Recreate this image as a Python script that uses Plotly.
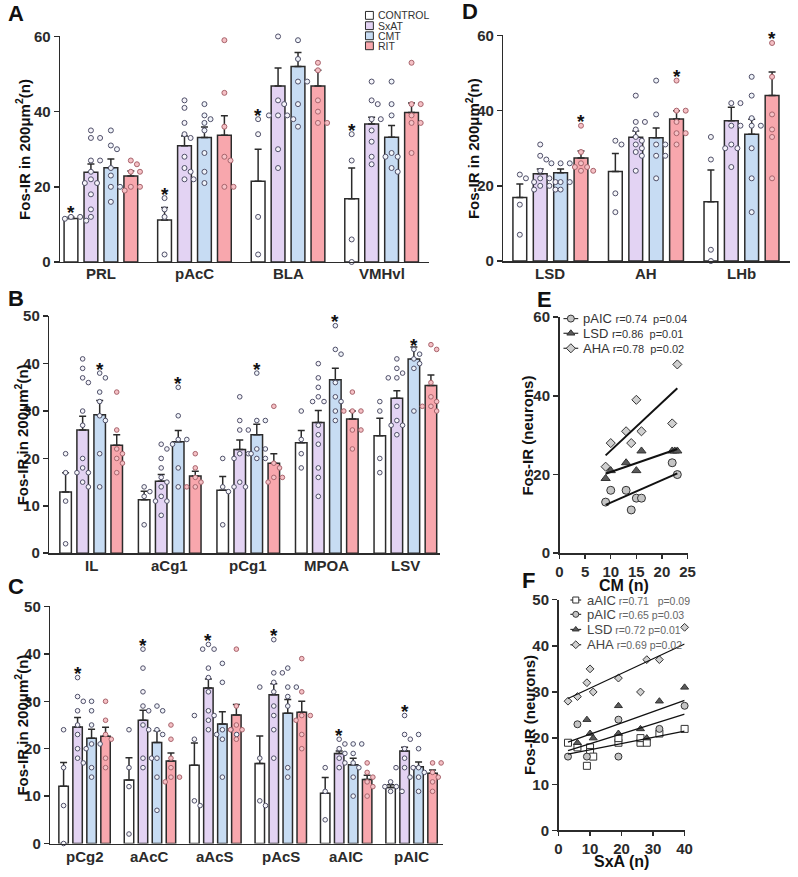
import numpy as np
import plotly.graph_objects as go

W, H = 798, 877
FONT = "Liberation Sans, Arial, Helvetica, sans-serif"
INK = "#2b2b2b"

group_names = ["CONTROL", "SxAT", "CMT", "RIT"]
bar_colors = ["#ffffff", "#e3d3f3", "#c7dcf3", "#f8a7ad"]
dot_fill = ["#f6f6f8", "#f6f4fa", "#f0f4fa", "#f5c0c5"]
dot_edge = ["#4f4f68", "#4f4f68", "#4f4f68", "#a8646c"]

# ---------------- Panel A ----------------
cats_A = ["PRL", "pAcC", "BLA", "VMHvl"]
mean_A_control = [11.6, 11.2, 21.5, 16.8]
mean_A_sxat = [23.9, 30.9, 46.8, 36.7]
mean_A_cmt = [25.1, 33.1, 52.0, 33.2]
mean_A_rit = [22.9, 33.7, 46.8, 39.8]
sem_A_control = [0.4, 3.3, 8.5, 8.2]
sem_A_sxat = [2.2, 2.6, 4.8, 1.8]
sem_A_cmt = [2.3, 2.8, 3.7, 3.1]
sem_A_rit = [1.3, 5.2, 4.2, 2.5]
pts_A_control = [[11, 11, 11.5, 12, 12], [17, 14, 12, 2], [38, 34, 12, 2], [34, 27, 6, 0]]
pts_A_sxat = [[35, 33, 33, 27, 27, 24, 22, 21, 21, 18, 14, 12],
              [43, 41, 37, 34, 33, 28, 25, 24, 22, 22],
              [60, 43, 42, 39, 39, 38, 39, 30, 25],
              [48, 43, 42, 38, 38, 35, 32, 28, 26]]
pts_A_cmt = [[35, 31, 30, 25, 23, 20, 20, 16],
             [42, 39, 38, 37, 35, 29, 24, 21],
             [59, 54, 48, 48, 42, 36],
             [48, 42, 39, 29, 28, 28, 25, 24]]
pts_A_rit = [[27, 26, 24, 24, 20, 19, 20],
             [59, 45, 36, 28, 27, 20, 20],
             [53, 51, 43, 40, 37, 37],
             [53, 42, 42, 39, 37, 37, 29]]

# ---------------- Panel D ----------------
cats_D = ["LSD", "AH", "LHb"]
mean_D_control = [16.9, 23.8, 15.8]
mean_D_sxat = [23.2, 32.9, 37.3]
mean_D_cmt = [23.5, 32.8, 33.7]
mean_D_rit = [27.4, 37.8, 44.0]
sem_D_control = [3.6, 4.8, 8.4]
sem_D_sxat = [1.3, 1.7, 3.6]
sem_D_cmt = [1.0, 2.6, 4.0]
sem_D_rit = [1.9, 2.2, 6.3]
pts_D_control = [[23, 22, 15, 7], [32, 31, 18, 13], [33, 27, 3, 0]]
pts_D_sxat = [[31, 28, 27, 24, 22, 22, 21, 21, 20, 20, 19, 19],
              [44, 37, 37, 35, 33, 32, 31, 30, 29, 28, 24],
              [42, 42, 36, 36, 31, 30, 30, 25]]
pts_D_cmt = [[26, 26, 26, 21, 21, 19],
             [48, 39, 31, 31, 28, 28, 22],
             [49, 44, 38, 36, 36, 30, 22, 13]]
pts_D_rit = [[36, 29, 26, 25, 25, 24, 24],
             [48, 40, 40, 37, 34, 34, 31],
             [58, 49, 39, 35, 33, 22]]

# ---------------- Panel B ----------------
cats_B = ["IL", "aCg1", "pCg1", "MPOA", "LSV"]
mean_B_control = [12.9, 11.3, 13.3, 23.3, 24.8]
mean_B_sxat = [26.0, 15.2, 21.9, 27.6, 32.7]
mean_B_cmt = [29.2, 23.5, 25.0, 36.6, 41.0]
mean_B_rit = [22.8, 16.3, 19.0, 28.3, 35.4]
sem_B_control = [4.1, 1.8, 2.9, 2.6, 3.7]
sem_B_sxat = [2.9, 1.4, 2.0, 2.5, 1.6]
sem_B_cmt = [3.0, 2.4, 2.2, 2.4, 2.5]
sem_B_rit = [2.2, 1.0, 2.0, 1.7, 2.2]
pts_B_control = [[21, 17, 11, 2], [14, 13, 12, 6], [20, 14, 13, 6], [30, 24, 21, 18], [32, 30, 20, 17]]
pts_B_sxat = [[41, 39, 37, 36, 30, 27, 20, 18, 17, 17, 15, 14],
              [23, 22, 20, 18, 16, 15, 14, 12, 11, 11, 8],
              [33, 28, 26, 26, 21, 21, 20, 15, 14, 14],
              [40, 37, 35, 33, 32, 32, 27, 25, 23, 18, 16, 12],
              [41, 39, 38, 37, 37, 31, 28, 27, 27, 25]]
pts_B_cmt = [[38, 37, 34, 32, 29, 28, 21, 14],
             [35, 29, 24, 24, 23, 18, 14],
             [38, 28, 28, 22, 22, 21, 20, 20],
             [48, 43, 42, 36, 33, 32, 30, 28],
             [43, 42, 41, 40, 39, 30]]
pts_B_rit = [[34, 26, 22, 21, 20, 19, 17],
             [21, 18, 16, 15, 14, 14],
             [31, 19, 18, 16, 16, 15],
             [34, 30, 30, 30, 26, 26, 22],
             [44, 43, 36, 33, 32, 31, 31, 30]]

# ---------------- Panel C ----------------
cats_C = ["pCg2", "aAcC", "aAcS", "pAcS", "aAIC", "pAIC"]
mean_C_control = [12.1, 13.4, 16.5, 16.9, 10.6, 11.8]
mean_C_sxat = [24.6, 26.0, 32.8, 31.4, 19.0, 19.5]
mean_C_cmt = [22.2, 21.3, 25.2, 27.5, 16.6, 16.2]
mean_C_rit = [22.6, 17.4, 27.1, 27.7, 13.5, 14.8]
sem_C_control = [5.0, 4.7, 4.7, 5.8, 3.3, 0.6]
sem_C_sxat = [2.0, 2.1, 1.9, 2.3, 0.5, 0.8]
sem_C_cmt = [1.9, 2.5, 2.6, 2.9, 1.4, 1.0]
sem_C_rit = [1.9, 1.7, 2.2, 2.3, 0.9, 0.7]
pts_C_control = [[24, 16, 8, 0], [24, 16, 12, 2], [27, 22, 9, 8], [33, 18, 9, 8], [16, 11, 5], [13, 12, 12, 11, 11]]
pts_C_sxat = [[35, 31, 30, 28, 25, 23, 20, 20, 18, 17],
              [41, 37, 32, 29, 28, 25, 24, 18, 18, 16],
              [42, 41, 41, 37, 35, 32, 28, 27, 26, 24],
              [43, 36, 36, 34, 32, 29, 27, 24, 18],
              [22, 21, 20, 19, 18, 17, 16],
              [27, 23, 22, 20, 18, 16, 16, 16]]
pts_C_cmt = [[30, 28, 25, 21, 21, 16, 14],
             [29, 28, 24, 23, 18, 14, 7],
             [38, 34, 24, 24, 23, 23, 22, 14],
             [37, 33, 33, 31, 29, 16, 14],
             [21, 21, 19, 17, 16, 14, 10],
             [23, 20, 16, 15, 14, 14, 11]]
pts_C_rit = [[30, 26, 23, 22, 18, 16],
             [25, 22, 18, 16, 14, 14, 13],
             [41, 29, 25, 24, 24, 22],
             [39, 32, 27, 27, 26, 23, 20],
             [17, 15, 14, 13, 12, 10],
             [17, 17, 15, 14, 13, 11]]

# ---------------- Panel E (vs CM) ----------------
E_pAIC_x = [9, 10, 13, 14, 15, 16, 22, 23]
E_pAIC_y = [13, 16, 16, 11, 14, 14, 23, 20]
E_LSD_x = [9, 10, 13, 15, 16, 22, 22.5, 23]
E_LSD_y = [19, 21, 23, 21, 26, 26, 26, 26]
E_AHA_x = [9, 10, 13, 14, 15, 16, 22, 23]
E_AHA_y = [22, 28, 31, 28, 39, 31, 33, 48]
E_labels = ["pAIC", "LSD", "AHA"]
E_stats = ["r=0.74&nbsp;&nbsp;p=0.04", "r=0.86&nbsp;&nbsp;p=0.01", "r=0.78&nbsp;&nbsp;p=0.02"]

# ---------------- Panel F (vs SxA) ----------------
F_aAIC_x = [3, 6, 9, 10, 10, 11, 19, 19, 26, 26, 28, 32, 40]
F_aAIC_y = [19, 18, 14, 18, 17, 16, 19, 20, 19, 20, 19, 21, 22]
F_pAIC_x = [3, 6, 9, 19, 19, 32, 40]
F_pAIC_y = [16, 23, 16, 24, 16, 22, 27]
F_LSD_x = [6, 9, 10, 11, 19, 19, 26, 28, 32, 40]
F_LSD_y = [19, 24, 21, 20, 27, 21, 22, 20, 28, 31]
F_AHA_x = [3, 6, 9, 10, 11, 19, 26, 28, 32, 40]
F_AHA_y = [28, 29, 32, 35, 30, 33, 30, 37, 37, 44]
F_labels = ["aAIC", "pAIC", "LSD", "AHA"]
F_stats = ["r=0.71&nbsp;&nbsp;&nbsp;p=0.09", "r=0.65&nbsp;p=0.03", "r=0.72&nbsp;p=0.01", "r=0.69&nbsp;p=0.02"]

# ---------------------------------------------------------------
fig = go.Figure()
layout = dict(width=W, height=H, autosize=False, margin=dict(l=0, r=0, t=0, b=0, pad=0),
              paper_bgcolor="white", plot_bgcolor="rgba(0,0,0,0)", showlegend=False,
              barmode="overlay", font=dict(family=FONT, color=INK))
annotations = []
shapes = []


def px2paper(x, y):
    return x / W, 1 - y / H


def swarm(vals, ppu, d, center):
    placed = []
    xs = [0.0] * len(vals)
    order = sorted(range(len(vals)), key=lambda i: -vals[i])
    cands = [0.0]
    for m in range(1, 12):
        cands += [m * d * 0.5, -m * d * 0.5]
    for i in order:
        y = vals[i] * ppu
        chosen = cands[-1]
        for c in cands:
            if all((c - p) ** 2 + (y - q) ** 2 >= (d * 1.02) ** 2 for p, q in placed):
                chosen = c
                break
        placed.append((chosen, y))
        xs[i] = center + chosen
    return xs


def axis_common():
    return dict(showline=True, linewidth=1.5, linecolor=INK, showgrid=False, zeroline=False,
                tickfont=dict(family=FONT, size=15, color=INK, weight="bold"))


def bar_panel(k, cats, means, sems, pts, star_grp, g):
    xa, ya = ("x" if k == 1 else f"x{k}"), ("y" if k == 1 else f"y{k}")
    n = len(cats)
    ppu = (g["ybot"] - g["ytop"]) / g["ymax"]
    centers = [[g["first"] + i * g["gpitch"] + j * g["pitch"] + g["bw"] / 2 for i in range(n)] for j in range(4)]
    for j in range(4):
        fig.add_trace(go.Bar(x=centers[j], y=means[j], width=g["bw"], xaxis=xa, yaxis=ya,
                             marker=dict(color=bar_colors[j], line=dict(color=INK, width=1.5)),
                             error_y=dict(type="data", array=sems[j], arrayminus=[0] * n, symmetric=False,
                                          color=INK, thickness=1.5, width=3.5)))
    for j in range(4):
        xs, ys = [], []
        for i in range(n):
            xs += swarm(pts[j][i], ppu, g["dot"] + 1.2, centers[j][i])
            ys += pts[j][i]
        fig.add_trace(go.Scatter(x=xs, y=ys, mode="markers", xaxis=xa, yaxis=ya, cliponaxis=False,
                                 marker=dict(size=g["dot"], color=dot_fill[j],
                                             line=dict(color=dot_edge[j], width=1))))
    for i in range(n):
        annotations.append(dict(x=centers[star_grp][i], y=max(pts[star_grp][i]), xref=xa, yref=ya,
                                text="*", showarrow=False, yanchor="middle", yshift=4,
                                font=dict(family=FONT, size=19, color="#111", weight="bold")))
        # category label
        annotations.append(dict(x=(centers[0][i] + centers[3][i]) / 2, y=1 - g["laby"] / H, xref=xa,
                                yref="paper", text=cats[i], showarrow=False, yanchor="middle",
                                xanchor="center",
                                font=dict(family=FONT, size=15, color=INK, weight="bold")))
    xd = [g["x0"] / W, min(g["x1"] / W, 1.0)]
    yd = [1 - g["ybot"] / H, 1 - g["ytop"] / H]
    xax = axis_common()
    xax.update(domain=xd, range=[g["x0"], g["x1"]], showticklabels=False, ticks="", anchor=ya)
    yax = axis_common()
    yax.update(domain=yd, range=[0, g["ymax"]], dtick=g["dtick"], ticks="outside", ticklen=5,
               tickwidth=1.5, tickcolor=INK, anchor=xa)
    layout["xaxis" if k == 1 else f"xaxis{k}"] = xax
    layout["yaxis" if k == 1 else f"yaxis{k}"] = yax


geo_A = dict(x0=57, x1=431, ytop=28, ybot=258, ymax=60, dtick=20, first=61, bw=14, pitch=20.25, gpitch=95,
             dot=5, laby=270)
geo_B = dict(x0=46, x1=443, ytop=313.3, ybot=555, ymax=50, dtick=10, first=56.7, bw=11.7, pitch=17.3,
             gpitch=79.75, dot=4.6, laby=568)
geo_C = dict(x0=47, x1=446, ytop=609.3, ybot=851, ymax=50, dtick=10, first=55.7, bw=9.6, pitch=14.2,
             gpitch=66.4, dot=4.6, laby=864)
geo_D = dict(x0=507, x1=798, ytop=27, ybot=257, ymax=60, dtick=20, first=516.7, bw=14, pitch=20.7, gpitch=97,
             dot=5, laby=270)

bar_panel(1, cats_A, [mean_A_control, mean_A_sxat, mean_A_cmt, mean_A_rit],
          [sem_A_control, sem_A_sxat, sem_A_cmt, sem_A_rit],
          [pts_A_control, pts_A_sxat, pts_A_cmt, pts_A_rit], 0, geo_A)
bar_panel(2, cats_B, [mean_B_control, mean_B_sxat, mean_B_cmt, mean_B_rit],
          [sem_B_control, sem_B_sxat, sem_B_cmt, sem_B_rit],
          [pts_B_control, pts_B_sxat, pts_B_cmt, pts_B_rit], 2, geo_B)
bar_panel(3, cats_C, [mean_C_control, mean_C_sxat, mean_C_cmt, mean_C_rit],
          [sem_C_control, sem_C_sxat, sem_C_cmt, sem_C_rit],
          [pts_C_control, pts_C_sxat, pts_C_cmt, pts_C_rit], 1, geo_C)
bar_panel(4, cats_D, [mean_D_control, mean_D_sxat, mean_D_cmt, mean_D_rit],
          [sem_D_control, sem_D_sxat, sem_D_cmt, sem_D_rit],
          [pts_D_control, pts_D_sxat, pts_D_cmt, pts_D_rit], 3, geo_D)

# ---------------- scatter panels ----------------
sty = {
    "pAIC": dict(symbol="circle", color="#c4c4c4"),
    "LSD": dict(symbol="triangle-up", color="#5a5a5a"),
    "AHA": dict(symbol="diamond", color="#d0d0d0"),
    "aAIC": dict(symbol="square", color="#ffffff"),
}


def scatter_panel(k, series, xr, yr, xdt, ydt, box, msize, lw):
    xa, ya = f"x{k}", f"y{k}"
    allx = [v for s in series for v in s[1]]
    lo, hi = min(allx), max(allx)
    for name, xs, ys in series:
        st = sty[name]
        fig.add_trace(go.Scatter(x=xs, y=ys, mode="markers", xaxis=xa, yaxis=ya, cliponaxis=False,
                                 marker=dict(symbol=st["symbol"], size=msize[name], color=st["color"],
                                             line=dict(color="#333", width=1))))
    for name, xs, ys in series:
        a, b = np.polyfit(xs, ys, 1)
        fig.add_trace(go.Scatter(x=[lo, hi], y=[a * lo + b, a * hi + b], mode="lines", xaxis=xa, yaxis=ya,
                                 line=dict(color="#111", width=lw)))
    x0, x1, ytop, ybot = box
    xax = axis_common()
    xax.update(domain=[x0 / W, x1 / W], range=xr, dtick=xdt, ticks="outside", ticklen=4, tickwidth=1.5,
               tickcolor=INK, anchor=ya)
    yax = axis_common()
    yax.update(domain=[1 - ybot / H, 1 - ytop / H], range=yr, dtick=ydt, ticks="outside", ticklen=5,
               tickwidth=1.5, tickcolor=INK, anchor=xa)
    layout[f"xaxis{k}"] = xax
    layout[f"yaxis{k}"] = yax


scatter_panel(5, [("pAIC", E_pAIC_x, E_pAIC_y), ("LSD", E_LSD_x, E_LSD_y), ("AHA", E_AHA_x, E_AHA_y)],
              [0, 25], [0, 60], 5, 20, (564, 694, 314.3, 555),
              {"pAIC": 8, "LSD": 8, "AHA": 7}, 2)
scatter_panel(6, [("aAIC", F_aAIC_x, F_aAIC_y), ("pAIC", F_pAIC_x, F_pAIC_y),
                  ("LSD", F_LSD_x, F_LSD_y), ("AHA", F_AHA_x, F_AHA_y)],
              [0, 40], [0, 50], 10, 10, (563, 691, 602.3, 837.7),
              {"aAIC": 7, "pAIC": 7, "LSD": 7, "AHA": 6}, 1.3)

# ---------------- overlay axis in pixel units (legends) ----------------
layout["xaxis7"] = dict(domain=[0, 1], range=[0, W], visible=False, fixedrange=True, anchor="y7")
layout["yaxis7"] = dict(domain=[0, 1], range=[H, 0], visible=False, fixedrange=True, anchor="x7")


def legend_glyph(name, x0, x1, y, msize):
    st = sty[name]
    fig.add_trace(go.Scatter(x=[x0, x1], y=[y, y], mode="lines", xaxis="x7", yaxis="y7",
                             line=dict(color="#333", width=1.2), hoverinfo="skip"))
    fig.add_trace(go.Scatter(x=[(x0 + x1) / 2], y=[y], mode="markers", xaxis="x7", yaxis="y7",
                             marker=dict(symbol=st["symbol"], size=msize, color=st["color"],
                                         line=dict(color="#333", width=1)), hoverinfo="skip"))


E_rows = [315.7, 330.7, 346.0]
for i, nm in enumerate(E_labels):
    legend_glyph(nm, 568, 583, E_rows[i], 7)
    annotations.append(dict(x=586, y=E_rows[i], xref="x7", yref="y7", xanchor="left", yanchor="middle",
                            showarrow=False,
                            text=f"{nm} <span style='font-size:11px'>{E_stats[i]}</span>",
                            font=dict(family=FONT, size=13, color="#333")))
F_rows = [602.7, 617.3, 632.7, 648.3]
for i, nm in enumerate(F_labels):
    legend_glyph(nm, 575, 586, F_rows[i], 6)
    annotations.append(dict(x=590, y=F_rows[i], xref="x7", yref="y7", xanchor="left", yanchor="middle",
                            showarrow=False,
                            text=f"{nm}<span style='font-size:10.5px;color:#666'>&nbsp;{F_stats[i]}</span>",
                            font=dict(family=FONT, size=13, color="#444")))

# bar legend (top)
leg_rows = [6.5, 17, 27.3, 37.5]
for i, nm in enumerate(group_names):
    shapes.append(dict(type="rect", xref="x7", yref="y7", x0=367, x1=375, y0=leg_rows[i] - 4,
                       y1=leg_rows[i] + 4, fillcolor=bar_colors[i], line=dict(color=INK, width=1)))
    annotations.append(dict(x=378, y=leg_rows[i], xref="x7", yref="y7", xanchor="left", yanchor="middle",
                            showarrow=False, text=nm, font=dict(family=FONT, size=10.5, color="#333")))

# panel letters
for lab, (lx, ly) in {"A": (2, 5), "B": (2, 295), "C": (2, 589), "D": (463, 3),
                      "E": (539, 296), "F": (524, 583)}.items():
    x, y = px2paper(lx, ly)
    annotations.append(dict(x=x, y=y, xref="paper", yref="paper", xanchor="left", yanchor="middle",
                            showarrow=False, text=lab, font=dict(family=FONT, size=22, color="#111", weight="bold")))

ytitle = "Fos-IR in 200\u03bcm<sup>2</sup>(n)"
for (tx, ty, txt) in [(19, 143, ytitle), (475, 142, ytitle), (18, 434, ytitle), (18, 730, ytitle),
                      (532, 435, "Fos-IR (neurons)"), (533, 720, "Fos-IR (neurons)")]:
    x, y = px2paper(tx, ty)
    annotations.append(dict(x=x, y=y, xref="paper", yref="paper", xanchor="center", yanchor="middle",
                            showarrow=False, textangle=-90, text=txt,
                            font=dict(family=FONT, size=15, color="#111", weight="bold")))
for (tx, ty, txt) in [(629, 588, "CM (n)"), (627, 869, "SxA (n)")]:
    x, y = px2paper(tx, ty)
    annotations.append(dict(x=x, y=y, xref="paper", yref="paper", xanchor="center", yanchor="middle",
                            showarrow=False, text=txt,
                            font=dict(family=FONT, size=16, color="#111", weight="bold")))

layout["annotations"] = annotations
layout["shapes"] = shapes
fig.update_layout(**layout)
fig.write_html("out.html", config={"displayModeBar": False, "staticPlot": True},
               post_script="document.body.style.margin='0';document.body.style.padding='0';"
                           "document.documentElement.style.overflow='hidden';")
